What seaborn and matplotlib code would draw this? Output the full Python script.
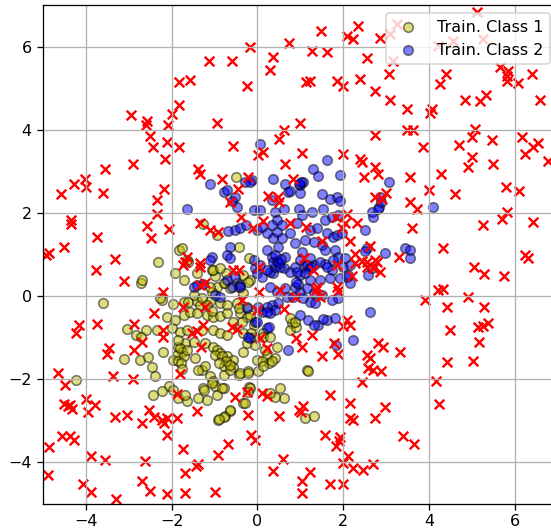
import numpy as np
import pandas as pd
import matplotlib
matplotlib.use("Agg")
import matplotlib.pyplot as plt
import seaborn as sns

# (x, y)
class1_pts = [
    (-2.72, 0.33), (-2.23, -0.09), (-1.97, -0.19), (-1.72, -0.15), (-1.61, -0.13), (-1.41, -0.11),
    (-1.34, -0.21), (-1.10, -0.11), (-0.87, -0.17), (-0.71, -0.21), (-0.95, 0.23), (-0.75, 0.33),
    (-1.06, 0.11), (-0.48, -0.17), (-0.25, -0.25), (-2.11, -0.49), (-1.92, -0.57), (-1.72, -0.45),
    (-1.57, -0.37), (-1.41, -0.41), (-1.18, -0.45), (-1.03, -0.49), (-0.87, -0.47), (-0.71, -0.41),
    (-0.40, -0.41), (-0.25, -0.49), (-3.04, -0.79), (-2.83, -0.93), (-2.59, -0.81), (-2.34, -0.81),
    (-2.72, -0.97), (-2.00, -0.77), (-1.80, -0.85), (-1.65, -0.81), (-1.30, -0.81), (-1.03, -0.81),
    (-0.87, -0.89), (-0.71, -0.93), (-0.33, -0.89), (-0.09, -0.97), (0.14, -0.89), (-1.84, -1.21),
    (-1.76, -1.33), (-1.88, -1.41), (-1.69, -1.13), (-1.49, -1.09), (-1.22, -1.13), (-1.03, -1.21),
    (-0.95, -1.29), (-0.87, -1.37), (-0.71, -1.45), (-0.56, -1.53), (-0.33, -1.33), (-0.01, -1.53),
    (0.22, -1.45), (-3.12, -1.51), (-2.73, -1.53), (-2.54, -1.46), (-2.46, -1.70), (-2.38, -1.93),
    (-2.19, -1.33), (-1.96, -1.53), (-1.84, -1.57), (-1.45, -1.49), (-1.30, -1.77), (-1.22, -1.69),
    (-1.38, -1.77), (-1.10, -1.93), (-1.03, -2.05), (-0.99, -2.17), (-1.06, -2.09), (-0.79, -1.69),
    (-0.56, -1.70), (-0.44, -1.89), (-0.21, -1.81), (-1.26, -2.21), (-0.79, -2.21), (-2.07, -2.15),
    (-1.96, -2.25), (-2.23, -2.29), (-2.44, -2.37), (-1.84, -2.45), (-0.95, -2.37), (-1.18, -2.49),
    (-0.33, -2.57), (-0.19, -2.18), (-0.91, -2.97), (-0.75, -2.89), (-0.65, -2.77), (-0.50, 2.87),
    (-1.27, 1.74), (-0.95, 1.47), (-1.82, 1.11), (-2.31, 0.83), (-1.92, 0.55), (-1.61, 0.83),
    (-2.69, 0.39), (-0.42, 1.19), (-0.19, 0.91), (-0.99, 0.49), (-1.06, 0.63), (-0.73, 0.55),
    (-0.79, 0.31), (-1.10, 0.23), (-0.48, 0.31), (-0.17, 0.39), (-0.33, 0.51), (-3.60, -0.17),
    (-2.27, -0.05), (-4.23, -2.01), (-1.03, 0.63), (-0.87, 0.67), (-1.41, 0.55), (-1.72, 0.39),
    (-0.64, 0.19), (-0.42, 0.23), (-0.21, 0.35), (-0.33, 0.07), (-1.49, 0.03), (-1.30, -0.05),
    (-1.18, -0.21), (-1.06, -0.35), (-0.44, -0.29), (-0.17, -0.45), (-0.36, -0.61), (-0.56, -0.61),
    (-0.09, -0.69), (-0.15, -0.89), (-0.25, -1.13), (-0.05, -1.17), (0.45, -1.21), (0.41, -1.49),
    (0.26, -1.61), (0.10, -1.57), (0.02, -1.81), (0.80, -0.65), (0.76, -0.81), (0.90, -0.73),
    (1.15, -1.77), (1.19, -1.81), (0.53, -2.21), (0.62, -2.45), (0.41, -2.43), (0.30, -2.33),
    (-0.17, -2.21), (-0.21, -2.31), (-0.29, -2.57), (-0.65, -2.73), (-0.79, -2.91), (-0.89, -2.95),
    (1.11, -2.93), (1.31, -2.87), (-1.38, -2.45), (-1.24, -2.25), (-0.83, -2.21), (-0.79, -1.89),
    (-0.64, -1.77), (-0.40, -1.85), (-0.21, -1.85), (-1.65, -2.53), (-1.69, -2.37), (-0.99, -1.41),
    (-0.83, -1.45), (-0.73, -1.57), (-0.64, -1.65), (-0.89, -1.61), (-1.76, 1.15), (-1.65, 0.87),
    (0.14, -0.97), (0.30, -0.97), (0.18, -1.29), (0.34, -1.57), (0.14, -1.69), (0.76, -0.53),
    (0.88, -0.61), (-1.80, -1.25), (-1.72, -1.45), (-1.78, -1.60), (-1.65, -1.30), (-1.85, -1.05),
    (-1.75, -1.75),
]

class2_pts = [
    (1.62, 3.27), (1.29, 3.07), (1.42, 2.89), (1.07, 2.75), (0.99, 2.67), (0.65, 2.71), (0.72, 2.51),
    (0.99, 2.49), (1.50, 2.47), (1.69, 2.35), (1.85, 2.39), (1.93, 2.29), (1.92, 2.91), (3.06, 2.75),
    (2.67, 2.03), (2.70, 1.90), (2.84, 2.15), (0.34, 2.31), (0.41, 2.03), (0.61, 2.11), (0.96, 2.11),
    (1.03, 1.95), (1.27, 2.03), (1.54, 2.11), (1.58, 1.83), (1.73, 1.91), (1.89, 1.95), (0.45, 1.83),
    (0.57, 1.71), (0.34, 1.71), (0.92, 1.75), (1.38, 1.63), (1.23, 1.59), (1.62, 1.51), (1.77, 1.43),
    (1.85, 1.47), (1.97, 1.51), (2.51, 1.59), (0.37, 1.39), (0.45, 1.55), (0.57, 1.39), (0.76, 1.51),
    (0.49, 1.19), (0.88, 1.27), (1.11, 1.35), (1.31, 1.31), (1.50, 1.23), (1.58, 1.11), (1.81, 1.11),
    (1.89, 0.95), (2.04, 0.91), (2.55, 1.15), (2.51, 1.09), (2.98, 1.05), (3.44, 1.15), (3.56, 1.11),
    (3.56, 0.91), (2.59, 0.51), (2.67, 0.67), (0.65, 0.95), (1.03, 1.07), (0.99, 0.87), (1.23, 0.91),
    (1.11, 0.73), (1.31, 0.75), (1.46, 0.83), (1.58, 0.77), (1.73, 0.63), (2.00, 0.71), (2.16, 0.75),
    (0.37, 0.55), (0.61, 0.67), (0.76, 0.59), (0.88, 0.71), (0.99, 0.51), (1.23, 0.39), (1.46, 0.39),
    (1.69, 0.45), (1.93, 0.43), (2.08, 0.47), (2.16, 0.31), (0.06, 3.66), (-1.10, 2.71), (-0.79, 2.51),
    (-0.71, 2.55), (-0.52, 2.38), (-0.48, 2.15), (-0.60, 2.30), (-0.13, 2.79), (-0.29, 2.75),
    (-1.65, 2.11), (-0.09, 2.07), (0.06, 2.07), (-0.68, 1.57), (-0.52, 1.59), (-0.40, 1.63),
    (-0.26, 1.71), (-0.01, 1.59), (0.10, 1.66), (0.22, 1.51), (-0.64, 1.19), (-0.71, 0.99),
    (-0.64, 0.91), (-1.06, 0.94), (-0.71, 0.39), (-0.52, 0.47), (-0.40, 0.27), (-0.09, 0.87),
    (-0.05, 0.67), (-0.01, 0.55), (0.22, 1.11), (0.34, 0.95), (0.30, 0.59), (0.41, 0.71), (0.10, 0.47),
    (-1.49, 0.23), (-1.41, 0.27), (0.37, 2.81), (0.75, 2.54), (0.96, 2.71), (1.01, 2.75), (-0.17, 2.75),
    (2.86, 2.39), (2.88, 2.27), (2.82, 2.11), (4.09, 2.14), (2.63, -0.37), (2.24, -1.05), (1.83, -1.17),
    (0.72, -1.29), (1.62, -0.57), (1.42, -0.69), (1.31, -0.69), (1.54, -0.55), (0.22, -0.77),
    (0.30, 0.23), (0.45, 0.11), (0.65, 0.19), (0.88, 0.23), (0.99, 0.11), (1.15, 0.19), (1.31, 0.07),
    (1.50, 0.03), (1.73, -0.09), (1.89, -0.05), (0.69, -0.01), (0.84, -0.01), (1.07, -0.05),
    (1.23, -0.13), (1.35, -0.17), (0.22, -0.25), (0.34, -0.21), (0.10, -0.37), (0.49, -0.17),
    (0.41, -0.33), (0.30, -0.41), (-1.26, 0.30), (-0.99, 0.03), (-0.87, -0.01), (-0.60, 0.23),
    (-0.40, 0.23), (-0.25, -0.29), (-0.05, -0.61), (-0.17, -1.01), (0.22, -0.37), (0.02, -0.25),
    (-1.10, 0.87), (0.06, 0.75), (0.23, 0.63), (0.37, 0.83), (0.53, 0.71), (0.92, 0.59), (1.15, 0.75),
    (1.62, 0.71), (1.77, 0.87), (2.12, 0.51), (1.00, -0.45), (1.19, -0.57), (1.81, -0.53),
    (0.26, -0.73), (-0.21, -0.97), (-0.01, -0.61), (0.45, 0.85), (0.50, 0.80), (0.55, 0.90),
    (1.20, 0.65), (1.25, 0.70), (1.10, 0.55), (0.95, 0.30), (0.40, 1.00), (0.90, 0.35),
]

test_pts = [
    (-4.87, 1.03), (-4.92, 0.98), (-4.52, 1.18), (-4.58, 2.47), (-4.27, 2.69), (-4.03, 2.83),
    (-3.99, 2.63), (-4.34, 1.83), (-4.34, 1.73), (-3.56, 3.05), (-3.60, 2.49), (-3.74, 1.42),
    (-3.32, 0.89), (-2.94, 4.35), (-2.89, 3.19), (-2.60, 4.11), (-2.58, 4.22), (-2.51, 3.86),
    (-2.44, 3.59), (-2.57, 1.70), (-2.48, 1.40), (-2.34, 2.31), (-2.34, 1.98), (-2.17, 2.57),
    (-2.16, 3.29), (-2.11, 3.71), (-2.08, 4.13), (-2.05, 1.62), (-2.00, 4.39), (-1.83, 4.61),
    (-1.83, 3.59), (-1.83, 5.15), (-1.57, 5.20), (-1.13, 5.67), (-0.60, 5.65), (-0.17, 5.99),
    (-0.25, 5.07), (0.36, 5.75), (0.30, 5.45), (0.73, 6.09), (1.28, 5.91), (1.62, 5.87), (1.48, 6.38),
    (1.14, 5.15), (1.23, 5.19), (1.86, 5.19), (2.00, 5.06), (2.08, 6.27), (2.22, 6.19), (2.34, 6.51),
    (2.39, 5.22), (2.55, 5.74), (-0.95, 4.17), (-0.57, 3.61), (0.62, 4.01), (0.51, 3.79), (1.00, 4.17),
    (0.02, 3.39), (0.14, 3.47), (1.03, 3.45), (0.65, 3.18), (1.99, 3.42), (2.39, 3.29), (2.43, 3.23),
    (2.49, 2.87), (-1.38, 3.07), (-1.34, 2.94), (-0.83, 2.81), (-0.22, 2.87), (0.84, 2.81),
    (-0.46, 2.57), (-0.64, 2.27), (0.24, 2.41), (0.49, 2.38), (0.51, 2.27), (-0.39, 1.90),
    (-1.34, 1.77), (-1.10, 1.59), (-0.91, 1.55), (0.13, 1.82), (-0.11, 1.63), (0.76, 1.75),
    (1.14, 1.67), (1.83, 1.91), (2.08, 1.99), (2.04, 1.77), (2.32, 1.77), (1.97, 1.63), (1.50, 1.33),
    (2.16, 1.33), (2.28, 1.02), (2.43, 0.85), (1.09, 0.91), (-1.65, 0.95), (-1.34, 0.79),
    (5.11, 6.83), (3.09, 6.31), (3.25, 6.55), (3.17, 5.67), (4.22, 6.03), (4.57, 6.15), (5.27, 6.19),
    (5.66, 5.51), (5.85, 5.43), (2.86, 6.21), (3.06, 5.35), (4.40, 5.34), (4.26, 5.10), (5.81, 5.31),
    (5.81, 5.19), (6.08, 5.13), (6.41, 5.34), (2.74, 4.94), (3.09, 4.73), (3.48, 4.51), (4.07, 4.51),
    (4.03, 4.41), (4.84, 4.73), (5.19, 4.70), (5.33, 4.85), (6.59, 4.71), (3.48, 4.01), (3.62, 3.99),
    (2.74, 3.87), (3.86, 3.58), (5.07, 4.03), (5.00, 3.83), (4.69, 3.63), (5.46, 3.77), (6.16, 3.83),
    (6.43, 3.59), (6.55, 3.69), (6.24, 3.42), (6.78, 3.26), (5.00, 3.35), (4.92, 3.11), (5.50, 3.18),
    (2.74, 3.11), (2.82, 2.95), (3.56, 2.87), (4.28, 2.95), (3.99, 2.55), (4.61, 2.47), (5.79, 2.63),
    (6.09, 2.54), (2.74, 2.39), (2.90, 2.35), (3.00, 2.49), (3.55, 2.27), (3.72, 2.11), (5.81, 2.03),
    (5.70, 1.87), (5.25, 1.71), (6.42, 1.79), (3.60, 1.63), (4.32, 1.15), (2.63, 1.21), (6.24, 0.99),
    (6.32, 0.91), (3.31, 0.95), (5.05, 0.71), (5.28, 0.53), (5.76, 0.49), (4.22, 0.15), (4.32, 0.17),
    (3.91, -0.09), (4.90, -0.03), (4.43, -0.25), (5.28, -0.25), (4.48, -0.81), (5.15, -0.75),
    (5.27, -0.71), (5.38, -0.65), (5.17, -1.11), (4.43, -1.58), (5.03, -1.55), (3.33, -1.33),
    (2.82, -1.13), (2.92, -1.21), (2.56, -1.41), (2.63, -1.49), (2.59, -1.73), (2.69, -1.77),
    (2.88, -1.79), (2.43, -2.06), (4.17, -2.03), (4.24, -2.59), (2.98, -2.67), (2.74, -2.93),
    (3.40, -3.37), (3.64, -3.55), (2.70, -4.03), (2.46, -4.17), (2.74, 0.87), (2.55, 0.70),
    (2.86, 0.58), (2.78, 0.83), (2.70, 0.67), (1.38, 0.23), (1.85, 0.23), (-3.77, 0.63), (-3.11, 0.37),
    (-2.21, 0.11), (-1.74, 0.75), (-1.69, 0.83), (-4.16, -0.69), (-4.23, -0.89), (-3.74, -0.67),
    (-2.87, -0.67), (-2.42, -0.41), (-1.74, -0.26), (-2.19, -0.97), (-2.19, -0.81), (-2.69, -1.10),
    (-2.87, -1.29), (-3.47, -1.25), (-3.51, -1.39), (-4.64, -1.85), (-4.48, -2.13), (-3.36, -1.93),
    (-2.89, -1.99), (-1.80, -1.87), (-1.88, -2.35), (-4.52, -2.59), (-4.41, -2.65), (-4.33, -2.71),
    (-4.37, -2.61), (-3.99, -2.47), (-3.78, -2.61), (-3.94, -2.79), (-3.32, -2.91), (-3.04, -2.85),
    (-2.69, -3.05), (-2.52, -2.73), (-2.42, -2.91), (-2.23, -2.99), (-2.17, -3.05), (-2.11, -2.93),
    (-1.88, -2.93), (-2.11, -3.35), (-1.74, -3.67), (-4.87, -3.63), (-4.56, -3.37), (-4.37, -3.37),
    (-4.27, -3.45), (-4.89, -4.29), (-3.88, -3.85), (-3.55, -3.95), (-2.62, -3.97), (-4.07, -4.51),
    (-3.88, -4.71), (-3.29, -4.89), (-2.69, -4.45), (-2.50, -4.69), (-2.11, -4.77), (-1.69, -4.73),
    (-1.69, -4.25), (-1.34, 0.71), (-0.56, 0.63), (-0.42, 0.63), (0.04, 0.71), (1.29, 0.63),
    (1.85, 0.75), (2.20, 0.49), (2.28, 0.79), (2.55, 0.83), (-1.34, 0.27), (-1.22, 0.31),
    (-1.22, -0.25), (-0.36, -0.09), (0.04, 0.11), (-0.01, -0.33), (0.53, 0.15), (0.88, -0.03),
    (1.37, 0.15), (1.46, -0.01), (1.89, 0.13), (0.61, -0.31), (-1.53, -0.89), (-1.40, -0.83),
    (-1.26, -0.69), (-0.60, -0.73), (-0.47, -0.79), (-1.32, -1.21), (0.06, -1.01), (0.23, -1.25),
    (0.90, -1.01), (1.03, -1.21), (1.27, -0.93), (1.50, -1.45), (1.79, -1.13), (1.89, -1.39),
    (2.08, -0.57), (2.16, -0.69), (1.99, -0.71), (-0.52, -2.43), (-0.25, -2.31), (0.10, -2.33),
    (0.22, -2.41), (1.69, -2.37), (2.16, -2.57), (-1.41, -2.77), (-0.21, -2.85), (0.51, -2.89),
    (1.01, -2.79), (1.07, -2.63), (0.98, -2.73), (2.16, -2.93), (2.24, -2.97), (-0.15, -3.33),
    (-0.05, -3.47), (1.58, -3.33), (1.93, -3.39), (1.91, -3.49), (1.83, -3.61), (-0.68, -3.55),
    (-0.91, -3.81), (0.59, -3.91), (0.37, -4.21), (1.23, -4.23), (1.03, -4.45), (1.03, -4.73),
    (2.12, -3.85), (2.00, -4.01), (2.24, -4.13), (1.69, -4.51), (2.00, -4.53), (-1.38, -4.03),
    (-1.43, -4.09), (-0.99, -4.71),
]

labels = ["Train. Class 1", "Train. Class 2"]
ticks = [-4, -2, 0, 2, 4, 6]

c1 = pd.DataFrame(class1_pts, columns=["x", "y"])
c2 = pd.DataFrame(class2_pts, columns=["x", "y"])
test = pd.DataFrame(test_pts, columns=["x", "y"])

dpi = 115
fig = plt.figure(figsize=(551 / dpi, 530 / dpi), dpi=dpi)
ax = fig.add_axes([0.078, 0.049, 0.934, 0.941])

sns.scatterplot(data=c1, x="x", y="y", color="y", edgecolor="k", alpha=0.5,
                s=36, linewidth=1.0, label=labels[0], ax=ax)
sns.scatterplot(data=c2, x="x", y="y", color="b", edgecolor="k", alpha=0.5,
                s=36, linewidth=1.0, label=labels[1], ax=ax)
sns.scatterplot(data=test, x="x", y="y", color="r", marker="x",
                s=36, linewidth=1.5, legend=False, ax=ax)

ax.set_xlim(-5, 7)
ax.set_ylim(-5, 7)
ax.set_xticks(ticks)
ax.set_yticks(ticks)
ax.tick_params(axis="x", pad=2.5)
ax.set_xlabel("")
ax.set_ylabel("")
ax.grid(True)
ax.legend(loc="upper right")

fig.savefig("out.png", dpi=dpi)
